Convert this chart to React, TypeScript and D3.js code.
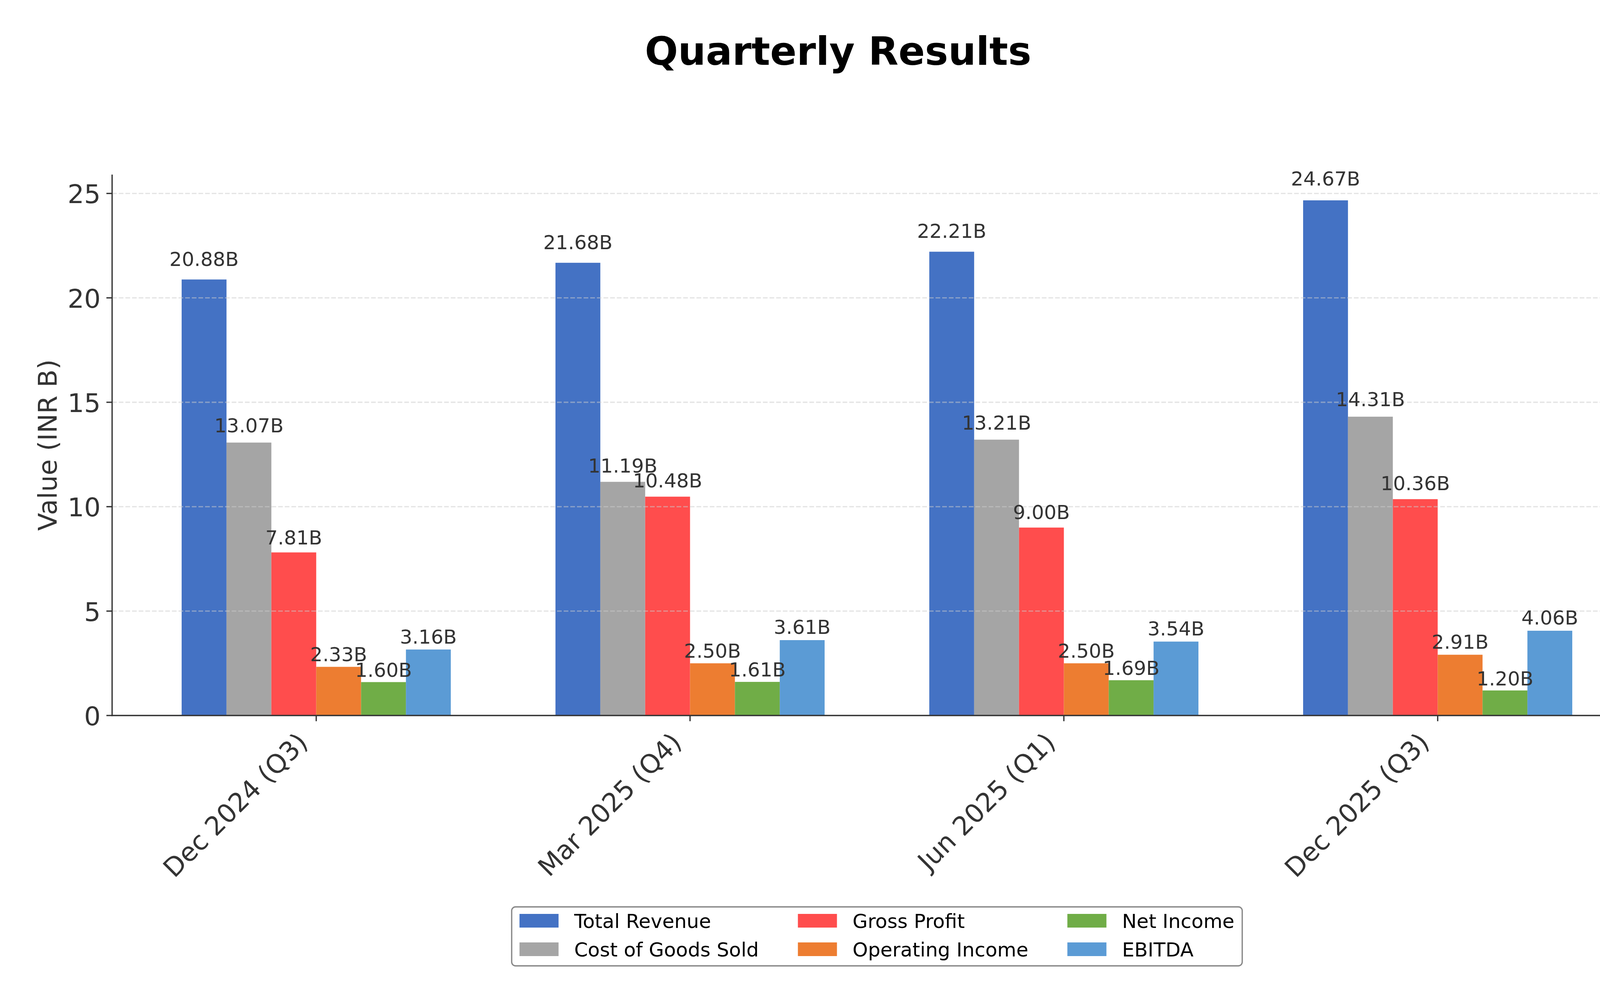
import { useEffect, useRef } from "react";
import * as d3 from "d3";

const width = 4291;
const height = 2563;
const margin = { top: 447, right: 88, bottom: 731, left: 287 };
const font = "DejaVu Sans";

const quarters = ["Dec 2024 (Q3)", "Mar 2025 (Q4)", "Jun 2025 (Q1)", "Dec 2025 (Q3)"];
const seriesNames = [
  "Total Revenue",
  "Cost of Goods Sold",
  "Gross Profit",
  "Operating Income",
  "Net Income",
  "EBITDA",
];
const seriesColors = ["#4472C4", "#A5A5A5", "#FF4D4D", "#ED7D31", "#70AD47", "#5B9BD5"];

// 每季數值 (INR B)
const totalRevenue = [20.88, 21.68, 22.21, 24.67];
const costOfGoodsSold = [13.07, 11.19, 13.21, 14.31];
const grossProfit = [7.81, 10.48, 9.0, 10.36];
const operatingIncome = [2.33, 2.5, 2.5, 2.91];
const netIncome = [1.6, 1.61, 1.69, 1.2];
const ebitda = [3.16, 3.61, 3.54, 4.06];

const seriesValues = [totalRevenue, costOfGoodsSold, grossProfit, operatingIncome, netIncome, ebitda];
const yTicks = [0, 5, 10, 15, 20, 25];

type Bar = { s: number; q: number; v: number };

export default function App() {
  const svgRef = useRef<SVGSVGElement | null>(null);

  useEffect(() => {
    if (!svgRef.current) return;
    const svg = d3.select(svgRef.current);
    svg.selectAll("*").remove();

    const n = seriesNames.length;
    const barW = 0.12;
    const lo = -barW * (n / 2);
    const hi = quarters.length - 1 + barW * (n / 2);
    const pad = (hi - lo) * 0.05;

    const bars: Bar[] = [];
    seriesValues.forEach((vals, s) => vals.forEach((v, q) => bars.push({ s, q, v })));

    const x = d3
      .scaleLinear()
      .domain([lo - pad, hi + pad])
      .range([margin.left, width - margin.right]);

    const y = d3
      .scaleLinear()
      .domain([0, (d3.max(bars, (d) => d.v) ?? 0) * 1.05])
      .range([height - margin.bottom, margin.top]);

    const x0 = margin.left;
    const x1 = width - margin.right;
    const y0 = height - margin.bottom;
    const ink = "#333333";
    const tick = 14.6;
    const lw = 3.3;

    svg.append("rect").attr("width", width).attr("height", height).attr("fill", "white");

    // 標題
    svg
      .append("text")
      .attr("x", width / 2)
      .attr("y", 166)
      .attr("text-anchor", "middle")
      .attr("font-family", font)
      .attr("font-weight", "bold")
      .attr("font-size", 100)
      .attr("fill", "#000")
      .text("Quarterly Results");

    // 長條
    const bx = (d: Bar) => x(d.q + (d.s - (n - 1) / 2) * barW - barW / 2);
    svg
      .append("g")
      .selectAll("rect")
      .data(bars)
      .join("rect")
      .attr("x", bx)
      .attr("width", x(barW) - x(0))
      .attr("y", (d) => y(d.v))
      .attr("height", (d) => y(0) - y(d.v))
      .attr("fill", (d) => seriesColors[d.s]);

    // 格線 (在長條上方)
    svg
      .append("g")
      .selectAll("line")
      .data(yTicks.filter((t) => t > 0))
      .join("line")
      .attr("x1", x0)
      .attr("x2", x1)
      .attr("y1", (d) => y(d))
      .attr("y2", (d) => y(d))
      .attr("stroke", "#cccccc")
      .attr("stroke-opacity", 0.5)
      .attr("stroke-width", lw)
      .attr("stroke-dasharray", "12 5");

    // 軸線
    svg
      .append("line")
      .attr("x1", x0)
      .attr("x2", x0)
      .attr("y1", margin.top)
      .attr("y2", y0 + lw / 2)
      .attr("stroke", ink)
      .attr("stroke-width", lw);
    svg
      .append("line")
      .attr("x1", x0 - lw / 2)
      .attr("x2", x1)
      .attr("y1", y0)
      .attr("y2", y0)
      .attr("stroke", ink)
      .attr("stroke-width", lw);

    // y 軸刻度
    const yAxis = svg.append("g");
    yAxis
      .selectAll("line")
      .data(yTicks)
      .join("line")
      .attr("x1", x0 - tick)
      .attr("x2", x0)
      .attr("y1", (d) => y(d))
      .attr("y2", (d) => y(d))
      .attr("stroke", ink)
      .attr("stroke-width", lw);
    yAxis
      .selectAll("text")
      .data(yTicks)
      .join("text")
      .attr("x", x0 - tick - 14.6)
      .attr("y", (d) => y(d) + 25)
      .attr("text-anchor", "end")
      .attr("font-family", font)
      .attr("font-size", 66.7)
      .attr("fill", ink)
      .text((d) => d);

    svg
      .append("text")
      .attr("transform", `translate(145, ${(margin.top + y0) / 2}) rotate(-90)`)
      .attr("text-anchor", "middle")
      .attr("font-family", font)
      .attr("font-size", 66.7)
      .attr("fill", ink)
      .text("Value (INR B)");

    // x 軸刻度
    const xAxis = svg.append("g");
    xAxis
      .selectAll("line")
      .data(quarters)
      .join("line")
      .attr("x1", (_, i) => x(i))
      .attr("x2", (_, i) => x(i))
      .attr("y1", y0)
      .attr("y2", y0 + tick)
      .attr("stroke", ink)
      .attr("stroke-width", lw);
    xAxis
      .selectAll("text")
      .data(quarters)
      .join("text")
      .attr("transform", (_, i) => `translate(${x(i) - 18}, 1905) rotate(-45)`)
      .attr("text-anchor", "end")
      .attr("font-family", font)
      .attr("font-size", 66.7)
      .attr("fill", ink)
      .text((d) => d);

    // 數值標籤
    svg
      .append("g")
      .selectAll("text")
      .data(bars)
      .join("text")
      .attr("x", (d) => bx(d) + (x(barW) - x(0)) / 2)
      .attr("y", (d) => y(d.v * 1.02) - 12)
      .attr("text-anchor", "middle")
      .attr("font-family", font)
      .attr("font-size", 50)
      .attr("fill", ink)
      .text((d) => `${d.v.toFixed(2)}B`);

    // 圖例 (3 欄, 依欄排列)
    const fs = 50;
    const cols = 3;
    const rows = Math.ceil(n / cols);
    const legend = svg.append("g");
    const frame = legend.append("rect");
    const items = legend
      .selectAll("g")
      .data(seriesNames)
      .join("g");
    items.append("rect").attr("class", "h");
    const labels = items
      .append("text")
      .attr("font-family", font)
      .attr("font-size", fs)
      .attr("fill", "#000")
      .text((d) => d);
    const tw = labels.nodes().map((t) => (t as SVGTextElement).getComputedTextLength());
    const colW = d3.range(cols).map((c) =>
      d3.max(d3.range(rows).map((r) => tw[c * rows + r] ?? 0)) ?? 0,
    );
    const colX: number[] = [];
    let acc = 0.4 * fs;
    colW.forEach((w) => {
      colX.push(acc);
      acc += 2 * fs + 0.8 * fs + w + 2 * fs;
    });
    const legW = acc - 2 * fs + 0.4 * fs;
    const legTop = 2322;
    const legH = 151;
    const legLeft = (x0 + x1) / 2 - legW / 2;
    frame
      .attr("x", legLeft)
      .attr("y", legTop)
      .attr("width", legW)
      .attr("height", legH)
      .attr("rx", 10)
      .attr("fill", "white")
      .attr("stroke", "#888888")
      .attr("stroke-width", lw);
    items.attr("transform", (_, i) => {
      const c = Math.floor(i / rows);
      const r = i % rows;
      return `translate(${legLeft + colX[c]}, ${legTop + 18 + r * 73})`;
    });
    items
      .select("rect.h")
      .attr("width", 2 * fs)
      .attr("height", 0.7 * fs)
      .attr("fill", (_, i) => seriesColors[i]);
    labels.attr("x", 2.8 * fs).attr("y", 0.7 * fs + 1);
  }, []);

  return (
    <svg
      ref={svgRef}
      width={width}
      height={height}
      viewBox={`0 0 ${width} ${height}`}
      style={{ position: "absolute", left: 0, top: 0, display: "block" }}
    />
  );
}
